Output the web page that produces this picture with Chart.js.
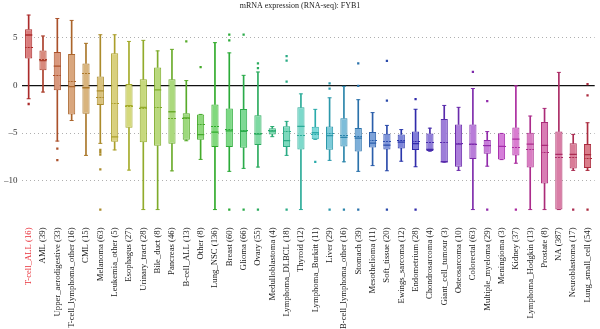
<!DOCTYPE html>
<html>
<head>
<meta charset="utf-8">
<script src="https://cdn.jsdelivr.net/npm/chart.js@4"></script>
<style>
  html, body { margin: 0; padding: 0; background: #fff; }
  #wrap { width: 600px; height: 329px; }
</style>
</head>
<body>
<div id="wrap"><canvas id="chart"></canvas></div>
<script>
const categories = [
    'T-cell_ALL (16)', 'AML (39)', 'Upper_aerodigestive (33)', 'T-cell_lymphoma_other (16)', 'CML (15)',
    'Melanoma (63)', 'Leukemia_other (5)', 'Esophagus (27)', 'Urinary_tract (28)', 'Bile_duct (8)',
    'Pancreas (46)', 'B-cell_ALL (13)', 'Other (8)', 'Lung_NSC (136)', 'Breast (60)',
    'Glioma (66)', 'Ovary (55)', 'Medulloblastoma (4)', 'Lymphoma_DLBCL (18)', 'Thyroid (12)',
    'Lymphoma_Burkitt (11)', 'Liver (29)', 'B-cell_lymphoma_other (16)', 'Stomach (39)', 'Mesothelioma (11)',
    'Soft_tissue (20)', 'Ewings_sarcoma (12)', 'Endometrium (28)', 'Chondrosarcoma (4)', 'Giant_cell_tumour (3)',
    'Osteosarcoma (10)', 'Colorectal (63)', 'Multiple_myeloma (29)', 'Meningioma (3)', 'Kidney (37)',
    'Lymphoma_Hodgkin (13)', 'Prostate (8)', 'NA (387)', 'Neuroblastoma (17)', 'Lung_small_cell (54)',
];

const whiskerLow = [
    -1.4, -0.7, -5.83, -3.68, -7.33, -6.07, -6.76, -8.87, -13, -13,
    -8.95, -5.8, -7.75, -13, -9.0, -8.69, -8.55, -5.37, -7.33, -13,
    -5.65, -7.85, -8.0, -9.0, -8.4, -8.94, -7.94, -8.52, -6.88, -8.03,
    -8.9, -13, -8.46, -7.77, -8.15, -13, -13, -13, -8.9, -8.9,
];
const q1 = [
    2.8, 1.57, -0.52, -3.04, -2.97, -2.06, -5.9, -4.43, -5.95, -6.32,
    -6.1, -5.7, -5.69, -6.46, -6.46, -6.53, -6.25, -5.13, -6.45, -6.72,
    -5.65, -6.74, -6.41, -6.93, -6.5, -6.7, -6.6, -6.76, -6.88, -8.03,
    -8.53, -7.7, -7.15, -7.77, -7.33, -8.59, -10.26, -13, -8.69, -8.65,
];
const median = [
    5.27, 2.6, 2.02, -0.14, -0.25, -0.58, -5.4, -2.12, -2.3, -0.47,
    -2.76, -3.4, -5.15, -4.9, -4.77, -4.8, -5.1, -4.78, -5.78, -4.3,
    -4.96, -5.27, -5.45, -5.52, -6.05, -6.25, -5.95, -6.1, -6.7, -8.0,
    -6.15, -6.15, -6.3, -6.38, -5.62, -6.15, -6.28, -7.22, -7.22, -7.24,
];
const mean = [
    4.0, 2.7, 1.05, 0.4, 1.2, -1.24, -1.95, -2.2, -2.4, -2.36,
    -3.46, -3.45, -4.1, -4.33, -4.62, -4.75, -5.0, -4.75, -4.78, -5.2,
    -5.1, -5.05, -5.25, -5.4, -5.75, -5.9, -5.75, -5.9, -6.0, -6.03,
    -6.05, -6.2, -6.25, -6.4, -6.55, -6.67, -7.05, -7.55, -7.6, -7.64,
];
const q3 = [
    5.88, 3.66, 3.49, 3.28, 2.3, 0.94, 3.35, 0.14, 0.63, 1.88,
    0.63, -2.92, -3.04, -1.99, -2.41, -2.48, -3.14, -4.5, -4.27, -2.3,
    -4.33, -4.31, -3.44, -4.47, -4.89, -5.06, -5.13, -4.83, -5.03, -3.53,
    -4.1, -4.1, -5.73, -5.03, -4.4, -4.96, -3.84, -4.82, -6.07, -6.14,
];
const whiskerHigh = [
    7.36, 5.17, 7.0, 6.8, 4.4, 5.3, 5.3, 4.6, 4.71, 3.61,
    3.77, 0.5, -3.04, 4.47, 3.4, 1.05, 1.4, -4.31, -3.77, -0.89,
    -2.51, -1.3, -0.1, -1.5, -2.85, -4.19, -4.63, -2.5, -4.48, -2.1,
    -2.3, -0.33, -4.84, -5.03, -0.06, -3.21, -2.41, 1.36, -5.13, -3.91,
];
const outliers = [
    [-1.95], [], [-6.63, -7.82], [], [],
    [-6.75, -7.0, -7.25, -8.8, -13], [], [], [], [],
    [], [4.6], [1.9], [], [5.3, 4.7, -13],
    [5.3, -13], [2.3, 1.8, -13], [], [3.05, 2.6, 0.4, -13], [],
    [-8.0], [0.22, -0.35, -13], [-13], [2.3, -0.05, -13], [],
    [2.56, -1.6, -13], [], [-1.45, -13], [], [],
    [], [1.42], [-1.66, -13], [], [-13],
    [], [], [], [-13], [0.14, -1.05, -13],
];
const yTicks = [-10, -5, 0, 5];

// hue walks round the colour wheel, one step per tissue
const strokeColors = categories.map((c, i) => `hsl(${i * 9}, 60%, 42%)`);
const fillColors = categories.map((c, i) => `hsl(${i * 9}, 55%, 67%)`);

function dashMark(color) {
    const c = document.createElement('canvas');
    c.width = 8;
    c.height = 1;
    const g = c.getContext('2d');
    g.fillStyle = color;
    for (let x = 0; x < 8; x += 3) g.fillRect(x, 0, 2, 1);
    return c;
}

const outlierPoints = [];
const outlierColors = [];
outliers.forEach((list, i) => {
    list.forEach((v) => {
        outlierPoints.push({ x: categories[i], y: v });
        outlierColors.push(strokeColors[i]);
    });
});

const serif = 'Liberation Serif';

new Chart(document.getElementById('chart'), {
    type: 'bar',
    data: {
        labels: categories,
        datasets: [
            {
                label: 'lower whisker',
                data: whiskerLow.map((v, i) => [v, q1[i]]),
                backgroundColor: strokeColors,
                borderWidth: 0,
                barThickness: 1,
                grouped: false,
                order: 3,
            },
            {
                label: 'upper whisker',
                data: whiskerHigh.map((v, i) => [q3[i], v]),
                backgroundColor: strokeColors,
                borderWidth: 0,
                barThickness: 1,
                grouped: false,
                order: 3,
            },
            {
                label: 'box',
                data: q1.map((v, i) => [v, q3[i]]),
                backgroundColor: fillColors,
                borderColor: strokeColors,
                borderWidth: 1,
                borderSkipped: false,
                barPercentage: 0.5,
                categoryPercentage: 1,
                grouped: false,
                order: 2,
            },
            {
                type: 'line',
                label: 'low cap',
                data: whiskerLow,
                showLine: false,
                pointStyle: 'line',
                pointRadius: 2,
                pointBorderWidth: 1,
                pointBorderColor: strokeColors,
                order: 1,
            },
            {
                type: 'line',
                label: 'high cap',
                data: whiskerHigh,
                showLine: false,
                pointStyle: 'line',
                pointRadius: 2,
                pointBorderWidth: 1,
                pointBorderColor: strokeColors,
                order: 1,
            },
            {
                type: 'line',
                label: 'median',
                data: median,
                showLine: false,
                pointStyle: 'line',
                pointRadius: 3.6,
                pointBorderWidth: 1.3,
                pointBorderColor: strokeColors,
                order: 0,
            },
            {
                type: 'line',
                label: 'mean',
                data: mean,
                showLine: false,
                pointStyle: strokeColors.map(dashMark),
                pointRadius: 4,
                order: 0,
            },
            {
                type: 'line',
                label: 'outliers',
                data: outlierPoints,
                showLine: false,
                pointStyle: 'rect',
                pointRadius: 1.6,
                pointBorderWidth: 0,
                pointBackgroundColor: outlierColors,
                order: 0,
            },
        ],
    },
    options: {
        responsive: true,
        maintainAspectRatio: false,
        animation: false,
        events: [],
        layout: { padding: 0 },
        plugins: {
            legend: { display: false },
            tooltip: { enabled: false },
            title: {
                display: true,
                text: 'mRNA expression (RNA-seq): FYB1',
                color: '#222',
                font: { family: serif, size: 8, weight: 'normal' },
                padding: { top: 1, bottom: 1.4 },
            },
        },
        scales: {
            x: {
                type: 'category',
                offset: true,
                grid: { display: false, drawTicks: true, tickLength: 15 },
                border: { display: false },
                ticks: {
                    autoSkip: false,
                    minRotation: 90,
                    maxRotation: 90,
                    padding: 0,
                    font: { family: serif, size: 8.7, lineHeight: 0.8 },
                    color: (ctx) => (ctx.index === 0 ? '#e8313a' : '#1a1a1a'),
                },
            },
            y: {
                min: -13.3,
                max: 7.68,
                afterBuildTicks: (axis) => {
                    axis.ticks = yTicks.map((v) => ({ value: v }));
                },
                grid: {
                    drawTicks: false,
                    color: (ctx) => (ctx.tick && ctx.tick.value === 0 ? '#111' : '#9a9a9a'),
                    lineWidth: (ctx) => (ctx.tick && ctx.tick.value === 0 ? 1.2 : 0.8),
                },
                border: {
                    display: false,
                    dash: (ctx) => (ctx.tick && ctx.tick.value === 0 ? [] : [1, 3]),
                },
                ticks: {
                    padding: 4,
                    color: '#333',
                    font: { family: serif, size: 9 },
                    callback: (v) => (v < 0 ? '–' + Math.abs(v) : String(v)),
                },
            },
        },
    },
});
</script>
</body>
</html>
